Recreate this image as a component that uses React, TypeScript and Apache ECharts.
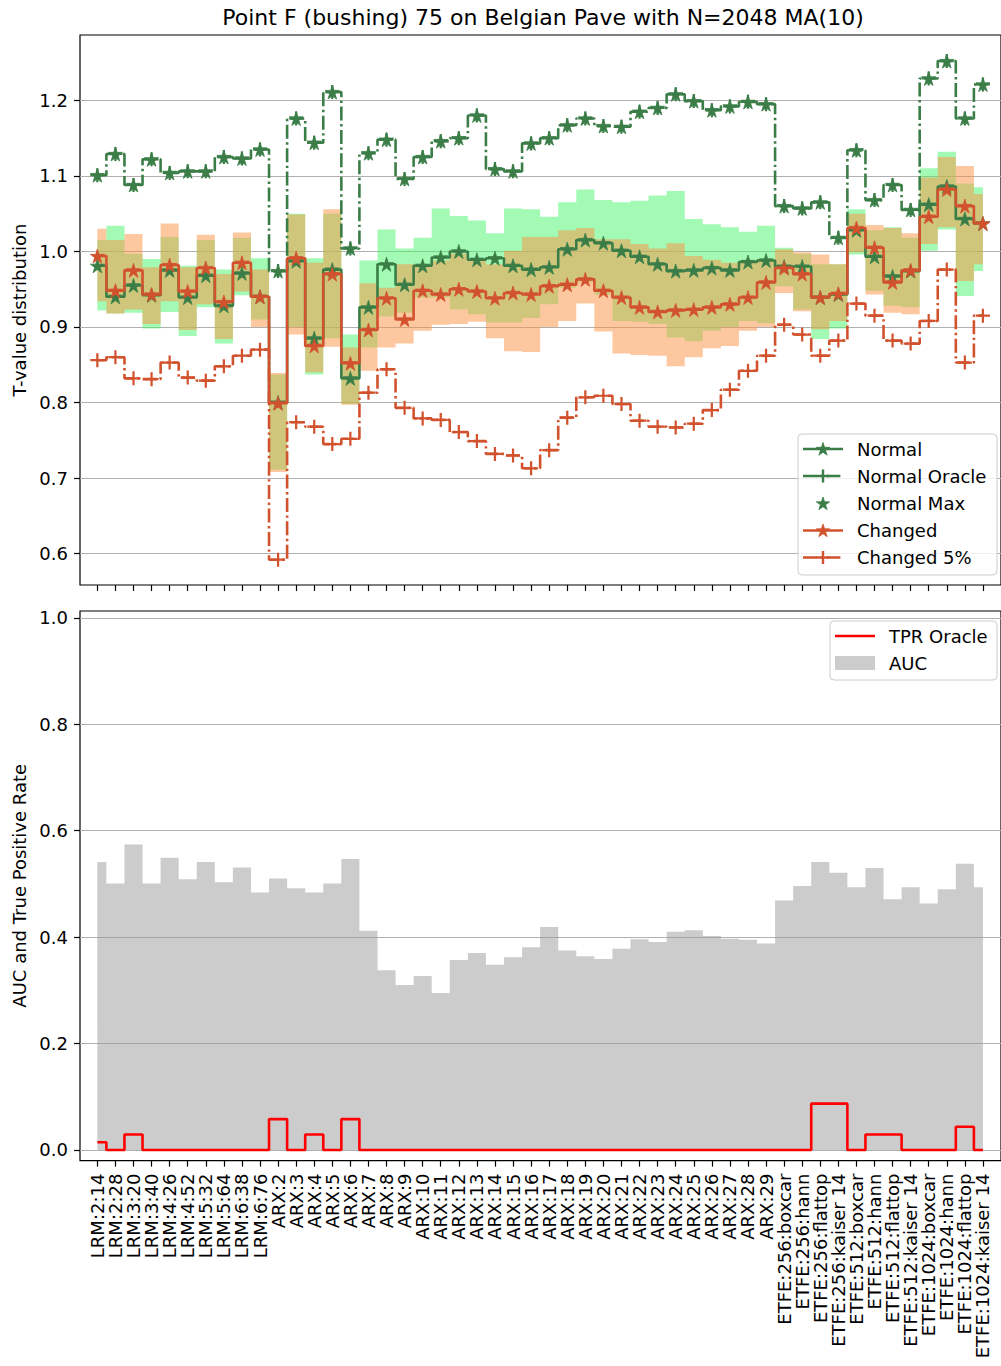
import React, { useEffect, useRef } from "react";
import * as echarts from "echarts";

// ---- data -------------------------------------------------------------
const categories = [
  "LRM:2:14", "LRM:2:28", "LRM:3:20", "LRM:3:40", "LRM:4:26", "LRM:4:52",
  "LRM:5:32", "LRM:5:64", "LRM:6:38", "LRM:6:76",
  "ARX:2", "ARX:3", "ARX:4", "ARX:5", "ARX:6", "ARX:7", "ARX:8", "ARX:9",
  "ARX:10", "ARX:11", "ARX:12", "ARX:13", "ARX:14", "ARX:15", "ARX:16",
  "ARX:17", "ARX:18", "ARX:19", "ARX:20", "ARX:21", "ARX:22", "ARX:23",
  "ARX:24", "ARX:25", "ARX:26", "ARX:27", "ARX:28", "ARX:29",
  "ETFE:256:boxcar", "ETFE:256:hann", "ETFE:256:flattop", "ETFE:256:kaiser 14",
  "ETFE:512:boxcar", "ETFE:512:hann", "ETFE:512:flattop", "ETFE:512:kaiser 14",
  "ETFE:1024:boxcar", "ETFE:1024:hann", "ETFE:1024:flattop", "ETFE:1024:kaiser 14",
];

const normal = [
  0.981, 0.940, 0.955, 0.942, 0.975, 0.939, 0.968, 0.928, 0.971, 0.940,
  0.800, 0.987, 0.885, 0.976, 0.832, 0.926, 0.983, 0.956, 0.981, 0.992,
  1.000, 0.989, 0.991, 0.981, 0.976, 0.979, 1.003, 1.015, 1.011, 1.001,
  0.993, 0.983, 0.974, 0.975, 0.978, 0.975, 0.986, 0.988, 0.980, 0.980,
  0.939, 0.943, 1.028, 0.993, 0.967, 0.974, 1.062, 1.086, 1.043, 1.037,
];

const normalOracle = [
  1.101, 1.129, 1.088, 1.122, 1.104, 1.106, 1.106, 1.125, 1.123, 1.135,
  0.974, 1.176, 1.144, 1.211, 1.004, 1.130, 1.148, 1.096, 1.125, 1.146,
  1.150, 1.180, 1.109, 1.106, 1.143, 1.150, 1.167, 1.176, 1.166, 1.165,
  1.185, 1.190, 1.208, 1.199, 1.187, 1.192, 1.198, 1.195, 1.060, 1.057,
  1.065, 1.018, 1.134, 1.068, 1.088, 1.055, 1.229, 1.252, 1.176, 1.221,
];

const normalMax = [
  1.101, 1.129, 1.088, 1.122, 1.104, 1.106, 1.106, 1.125, 1.123, 1.135,
  0.974, 1.176, 1.144, 1.211, 1.004, 1.130, 1.148, 1.096, 1.125, 1.146,
  1.150, 1.180, 1.109, 1.106, 1.143, 1.150, 1.167, 1.176, 1.166, 1.165,
  1.185, 1.190, 1.208, 1.199, 1.187, 1.192, 1.198, 1.195, 1.060, 1.057,
  1.065, 1.018, 1.134, 1.068, 1.088, 1.055, 1.229, 1.252, 1.176, 1.221,
];

const changed = [
  0.994, 0.948, 0.975, 0.943, 0.982, 0.947, 0.978, 0.933, 0.985, 0.940,
  0.799, 0.991, 0.875, 0.970, 0.852, 0.896, 0.938, 0.910, 0.948, 0.943,
  0.950, 0.947, 0.938, 0.945, 0.943, 0.954, 0.956, 0.963, 0.948, 0.939,
  0.926, 0.920, 0.922, 0.923, 0.926, 0.930, 0.939, 0.959, 0.978, 0.970,
  0.939, 0.944, 1.031, 1.005, 0.959, 0.975, 1.046, 1.082, 1.060, 1.037,
];

const changed5 = [
  0.856, 0.860, 0.832, 0.831, 0.853, 0.833, 0.829, 0.848, 0.862, 0.870,
  0.592, 0.774, 0.768, 0.745, 0.752, 0.813, 0.844, 0.793, 0.779, 0.777,
  0.761, 0.749, 0.732, 0.730, 0.713, 0.737, 0.780, 0.807, 0.809, 0.798,
  0.776, 0.768, 0.767, 0.772, 0.790, 0.817, 0.842, 0.862, 0.903, 0.890,
  0.862, 0.882, 0.931, 0.915, 0.882, 0.878, 0.908, 0.976, 0.853, 0.915,
];

const normalBandHigh = [
  1.015, 1.034, 0.997, 0.990, 1.019, 0.981, 1.015, 0.976, 1.018, 0.991,
  0.837, 1.050, 0.991, 1.050, 0.890, 0.988, 1.029, 1.004, 1.018, 1.057,
  1.047, 1.041, 1.024, 1.057, 1.056, 1.046, 1.065, 1.082, 1.068, 1.065,
  1.067, 1.074, 1.080, 1.043, 1.036, 1.032, 1.026, 1.034, 1.005, 0.997,
  0.983, 0.983, 1.056, 1.028, 1.032, 1.018, 1.110, 1.132, 1.090, 1.085,
];

const normalBandLow = [
  0.922, 0.918, 0.919, 0.898, 0.920, 0.888, 0.926, 0.878, 0.942, 0.910,
  0.711, 0.900, 0.837, 0.885, 0.798, 0.873, 0.914, 0.919, 0.939, 0.939,
  0.923, 0.917, 0.906, 0.906, 0.912, 0.930, 0.952, 0.959, 0.943, 0.908,
  0.907, 0.904, 0.886, 0.881, 0.895, 0.900, 0.908, 0.905, 0.954, 0.923,
  0.884, 0.898, 0.996, 0.948, 0.928, 0.926, 1.001, 1.029, 0.941, 0.974,
];

const changedBandHigh = [
  1.030, 1.015, 1.023, 0.979, 1.037, 0.979, 1.022, 0.970, 1.025, 0.976,
  0.839, 1.049, 0.985, 1.056, 0.873, 0.958, 0.952, 0.983, 0.983, 0.988,
  0.997, 0.989, 0.983, 1.001, 1.019, 1.019, 1.028, 1.031, 1.016, 1.016,
  1.010, 1.004, 1.011, 0.994, 0.989, 0.985, 0.988, 0.990, 1.003, 0.999,
  0.996, 0.983, 1.050, 1.035, 1.031, 1.024, 1.098, 1.125, 1.113, 1.076,
];

const changedBandLow = [
  0.934, 0.918, 0.923, 0.904, 0.934, 0.896, 0.930, 0.884, 0.947, 0.900,
  0.708, 0.890, 0.840, 0.874, 0.797, 0.842, 0.873, 0.878, 0.895, 0.903,
  0.904, 0.907, 0.885, 0.868, 0.867, 0.900, 0.908, 0.931, 0.894, 0.865,
  0.863, 0.862, 0.848, 0.860, 0.872, 0.875, 0.895, 0.900, 0.945, 0.921,
  0.897, 0.908, 0.999, 0.943, 0.919, 0.917, 1.010, 1.032, 0.961, 0.983,
];

const auc = [
  0.541, 0.501, 0.574, 0.501, 0.549, 0.509, 0.541, 0.503, 0.531, 0.484,
  0.510, 0.492, 0.484, 0.501, 0.547, 0.412, 0.338, 0.310, 0.327, 0.295,
  0.357, 0.370, 0.348, 0.362, 0.381, 0.419, 0.375, 0.364, 0.359, 0.378,
  0.396, 0.391, 0.410, 0.413, 0.402, 0.397, 0.395, 0.388, 0.469, 0.496,
  0.541, 0.521, 0.494, 0.530, 0.471, 0.494, 0.463, 0.490, 0.538, 0.494,
];

const tprOracle = [
  0.0145, 0, 0.029, 0, 0, 0, 0, 0, 0, 0,
  0.058, 0, 0.029, 0, 0.058, 0, 0, 0, 0, 0,
  0, 0, 0, 0, 0, 0, 0, 0, 0, 0,
  0, 0, 0, 0, 0, 0, 0, 0, 0, 0,
  0.087, 0.087, 0, 0.029, 0.029, 0, 0, 0, 0.0435, 0,
];

const topTicks = [0.6, 0.7, 0.8, 0.9, 1.0, 1.1, 1.2];
const bottomTicks = [0.0, 0.2, 0.4, 0.6, 0.8, 1.0];

// ---- styling ----------------------------------------------------------
const FONT = "DejaVu Sans";
const GREEN = "#3b7d47";
const ORANGE = "#d2522e";
const RED = "#ff0000";
const GREEN_FILL = "rgba(71,245,107,0.5)";
const ORANGE_FILL = "rgba(251,145,65,0.5)";
const AUC_FILL = "rgb(153,153,153)";
const GRID_COLOR = "#b0b0b0";
const LINE_W = 2.6;
const DASH_DOT = [14, 3.5, 2.4, 3.5];
const MARK = 14;
const LEGEND_Z = 100;

const STAR =
  "path://M0,-10L2.245,-3.09L9.51,-3.09L3.633,1.18L5.878,8.09L0,3.82L-5.878,8.09L-3.633,1.18L-9.51,-3.09L-2.245,-3.09Z";
const PLUS =
  "path://M-1.6,-10L1.6,-10L1.6,-1.6L10,-1.6L10,1.6L1.6,1.6L1.6,10L-1.6,10L-1.6,1.6L-10,1.6L-10,-1.6L-1.6,-1.6Z";

const xTicks = categories.map((_, i) => i);
const pairs = (vals: number[]) => vals.map((v, i) => [i, v]);

const X_MIN = -0.96;
const X_MAX = 50;

// A filled band between two step-mid curves, drawn as one polygon in data space.
function stepBand(name: string, lo: number[], hi: number[], fill: string, z: number) {
  return {
    name,
    type: "custom",
    xAxisIndex: 0,
    yAxisIndex: 0,
    data: [[0, lo[0], hi[0]]],
    silent: true,
    z,
    renderItem: (_params: any, api: any) => {
      const n = hi.length;
      const upper: number[][] = [];
      const lower: number[][] = [];
      for (let i = 0; i < n; i++) {
        const x0 = i === 0 ? 0 : i - 0.5;
        const x1 = i === n - 1 ? n - 1 : i + 0.5;
        upper.push(api.coord([x0, hi[i]]), api.coord([x1, hi[i]]));
        lower.push(api.coord([x0, lo[i]]), api.coord([x1, lo[i]]));
      }
      const points = upper.concat(lower.reverse());
      return {
        type: "polygon",
        shape: { points },
        style: { fill, stroke: "none" },
      };
    },
  };
}

// ---- legend glyphs ------------------------------------------------------
function starGlyph(cx: number, cy: number, r: number, color: string) {
  const points: number[][] = [];
  for (let k = 0; k < 10; k++) {
    const a = -Math.PI / 2 + (k * Math.PI) / 5;
    const rr = k % 2 === 0 ? r : r * 0.382;
    points.push([cx + rr * Math.cos(a), cy + rr * Math.sin(a)]);
  }
  return {
    type: "polygon",
    z: LEGEND_Z + 2,
    shape: { points },
    style: { fill: color, stroke: color, lineWidth: 0.8 },
  };
}

function plusGlyph(cx: number, cy: number, r: number, color: string) {
  const st = { stroke: color, lineWidth: 2.4 };
  return [
    { type: "line", z: LEGEND_Z + 2, shape: { x1: cx - r, y1: cy, x2: cx + r, y2: cy }, style: st },
    { type: "line", z: LEGEND_Z + 2, shape: { x1: cx, y1: cy - r, x2: cx, y2: cy + r }, style: st },
  ];
}

function legendRow(
  x: number,
  y: number,
  label: string,
  color: string,
  kind: "line" | "dash" | "marker" | "patch",
  marker: "star" | "plus" | null
) {
  const els: any[] = [];
  if (kind === "line" || kind === "dash") {
    els.push({
      type: "line",
      z: LEGEND_Z + 1,
      shape: { x1: x, y1: y, x2: x + 40, y2: y },
      style: {
        stroke: color,
        lineWidth: LINE_W,
        lineDash: kind === "dash" ? DASH_DOT : null,
        lineCap: "butt",
      },
    });
  }
  if (kind === "patch") {
    els.push({
      type: "rect",
      z: LEGEND_Z + 1,
      shape: { x, y: y - 7, width: 40, height: 14 },
      style: { fill: color },
    });
  }
  if (marker === "star") els.push(starGlyph(x + 20, y + 0.5, 7, color));
  if (marker === "plus") els.push(...plusGlyph(x + 20, y, 6.5, color));
  els.push({
    type: "text",
    z: LEGEND_Z + 1,
    x: x + 54,
    y,
    style: { text: label, fontSize: 18, fontFamily: FONT, fill: "#000", textVerticalAlign: "middle" },
  });
  return els;
}

function legendBox(x: number, y: number, w: number, h: number) {
  return {
    type: "rect",
    z: LEGEND_Z,
    shape: { x, y, width: w, height: h, r: 4 },
    style: { fill: "rgba(255,255,255,0.8)", stroke: "#cccccc", lineWidth: 1 },
  };
}

function buildOption() {
  const stepLine = (
    name: string,
    vals: number[],
    color: string,
    opts: { dashed?: boolean; symbol?: string; z?: number } = {}
  ) => ({
    name,
    type: "line",
    xAxisIndex: 0,
    yAxisIndex: 0,
    step: "middle",
    data: pairs(vals),
    symbol: opts.symbol ?? STAR,
    symbolSize: MARK,
    showSymbol: true,
    showAllSymbol: true,
    itemStyle: { color, borderColor: color, borderWidth: opts.symbol ? 0 : 0.8 },
    lineStyle: {
      color,
      width: LINE_W,
      type: opts.dashed ? DASH_DOT : "solid",
      cap: "butt",
    },
    z: opts.z ?? 5,
    silent: true,
  });

  const axisText = { fontSize: 18, color: "#000", fontFamily: FONT };
  const LX = 803;

  return {
    animation: false,
    backgroundColor: "#fff",
    textStyle: { fontFamily: FONT },
    graphic: [
      {
        type: "text",
        x: 543,
        y: 17,
        style: {
          text: "Point F (bushing) 75 on Belgian Pave with N=2048 MA(10)",
          fontSize: 22,
          fontFamily: FONT,
          fill: "#000",
          textAlign: "center",
          textVerticalAlign: "middle",
        },
      },
      legendBox(798, 434, 199, 141),
      ...legendRow(LX, 449, "Normal", GREEN, "line", "star"),
      ...legendRow(LX, 476, "Normal Oracle", GREEN, "dash", "plus"),
      ...legendRow(LX, 503.5, "Normal Max", GREEN, "marker", "star"),
      ...legendRow(LX, 530.5, "Changed", ORANGE, "line", "star"),
      ...legendRow(LX, 557.5, "Changed 5%", ORANGE, "dash", "plus"),
      legendBox(830, 621, 167, 59),
      ...legendRow(835, 636, "TPR Oracle", RED, "line", null),
      ...legendRow(835, 663, "AUC", "#cccccc", "patch", null),
    ],
    grid: [
      { left: 80, top: 35, width: 926, height: 550, show: true, borderColor: "#000", borderWidth: 1.2, backgroundColor: "transparent" },
      { left: 80, top: 611, width: 926, height: 549.6, show: true, borderColor: "#000", borderWidth: 1.2, backgroundColor: "transparent" },
    ],
    xAxis: [
      {
        type: "value",
        gridIndex: 0,
        min: X_MIN,
        max: X_MAX,
        axisLine: { show: false, onZero: false },
        axisTick: { show: true, customValues: xTicks, length: 6, lineStyle: { color: "#000", width: 1.2 } },
        axisLabel: { show: false },
        splitLine: { show: false },
      },
      {
        type: "value",
        gridIndex: 1,
        min: X_MIN,
        max: X_MAX,
        axisLine: { show: false, onZero: false },
        axisTick: { show: true, customValues: xTicks, length: 6, lineStyle: { color: "#000", width: 1.2 } },
        axisLabel: {
          show: true,
          customValues: xTicks,
          formatter: (v: number) => categories[Math.round(v)] ?? "",
          rotate: 90,
          margin: 13,
          ...axisText,
        },
        splitLine: { show: false },
      },
    ],
    yAxis: [
      {
        type: "value",
        gridIndex: 0,
        min: 0.5585,
        max: 1.2865,
        axisLine: { show: false, onZero: false },
        axisTick: { show: true, customValues: topTicks, length: 6, lineStyle: { color: "#000", width: 1.2 } },
        axisLabel: { customValues: topTicks, formatter: (v: number) => v.toFixed(1), margin: 12, ...axisText },
        splitLine: { show: true, lineStyle: { color: GRID_COLOR, width: 1.2 } },
        name: "T-value distribution",
        nameLocation: "middle",
        nameGap: 49,
        nameTextStyle: axisText,
      },
      {
        type: "value",
        gridIndex: 1,
        min: -0.02,
        max: 1.013,
        axisLine: { show: false, onZero: false },
        axisTick: { show: true, customValues: bottomTicks, length: 6, lineStyle: { color: "#000", width: 1.2 } },
        axisLabel: { customValues: bottomTicks, formatter: (v: number) => v.toFixed(1), margin: 12, ...axisText },
        splitLine: { show: true, lineStyle: { color: GRID_COLOR, width: 1.2 } },
        name: "AUC and True Positive Rate",
        nameLocation: "middle",
        nameGap: 49,
        nameTextStyle: axisText,
      },
    ],
    series: [
      stepBand("Normal band", normalBandLow, normalBandHigh, GREEN_FILL, 1),
      stepBand("Changed band", changedBandLow, changedBandHigh, ORANGE_FILL, 2),
      stepLine("Normal", normal, GREEN, { z: 5 }),
      stepLine("Normal Oracle", normalOracle, GREEN, { dashed: true, symbol: PLUS, z: 5 }),
      {
        name: "Normal Max",
        type: "scatter",
        xAxisIndex: 0,
        yAxisIndex: 0,
        data: pairs(normalMax),
        symbol: STAR,
        symbolSize: MARK,
        itemStyle: { color: GREEN, borderColor: GREEN, borderWidth: 0.8, opacity: 1 },
        silent: true,
        z: 6,
      },
      stepLine("Changed", changed, ORANGE, { z: 7 }),
      stepLine("Changed 5%", changed5, ORANGE, { dashed: true, symbol: PLUS, z: 7 }),
      {
        name: "AUC",
        type: "line",
        xAxisIndex: 1,
        yAxisIndex: 1,
        step: "middle",
        data: pairs(auc),
        symbol: "none",
        itemStyle: { color: "#cccccc" },
        lineStyle: { width: 0, opacity: 0 },
        areaStyle: { color: AUC_FILL, opacity: 0.5, origin: 0 },
        silent: true,
        z: 2,
      },
      {
        name: "TPR Oracle",
        type: "line",
        xAxisIndex: 1,
        yAxisIndex: 1,
        step: "middle",
        data: pairs(tprOracle),
        symbol: "none",
        itemStyle: { color: RED },
        lineStyle: { color: RED, width: LINE_W },
        silent: true,
        z: 5,
      },
    ],
  };
}

export default function App() {
  const ref = useRef<HTMLDivElement>(null);

  useEffect(() => {
    if (!ref.current) return;
    const chart = echarts.init(ref.current, null, { renderer: "svg" });
    chart.setOption(buildOption() as any);
    return () => chart.dispose();
  }, []);

  return (
    <div
      ref={ref}
      style={{ position: "fixed", left: 0, top: 0, width: 1001, height: 1366, background: "#fff" }}
    />
  );
}
